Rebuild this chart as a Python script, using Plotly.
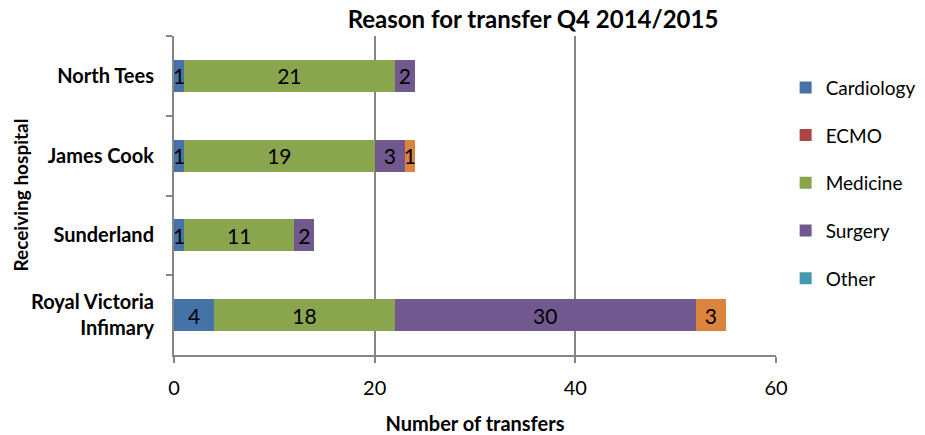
import plotly.graph_objects as go

hospitals = ["North Tees", "James Cook", "Sunderland", "Royal Victoria<br>Infimary"]
cardiology = [1, 1, 1, 4]
ecmo = [0, 0, 0, 0]
medicine = [21, 19, 11, 18]
surgery = [2, 3, 2, 30]
other = [0, 0, 0, 0]
unlisted = [0, 1, 0, 3]
x_ticks = [0, 20, 40, 60]

series = [
    ("Cardiology", cardiology, "#4572A7", True),
    ("ECMO", ecmo, "#AA4643", True),
    ("Medicine", medicine, "#89A54E", True),
    ("Surgery", surgery, "#71588F", True),
    ("Other", other, "#4198AF", True),
    ("Unlisted", unlisted, "#DB843D", False),
]

FONT = "Lato, 'Open Sans', sans-serif"
fig = go.Figure()
for i, (name, vals, color, show) in enumerate(series):
    fig.add_trace(go.Bar(
        y=hospitals, x=vals, name=name, orientation="h",
        marker=dict(color=color, line=dict(width=0)),
        text=[str(v) if v else "" for v in vals],
        textposition="inside", insidetextanchor="middle",
        textangle=0, constraintext="none", cliponaxis=False,
        textfont=dict(family=FONT, size=21, color="black"),
        legendgroup=name, showlegend=show,
    ))

fig.update_layout(
    barmode="stack", bargap=0.6,
    width=925, height=435,
    margin=dict(l=174, r=149, t=36, b=80, autoexpand=False),
    paper_bgcolor="white", plot_bgcolor="white",
    font=dict(family=FONT, color="black"),
    title=dict(text="<b>Reason for transfer Q4 2014/2015</b>", x=533/925, xanchor="center",
               y=1 - 20/435, yanchor="middle", xref="container", yref="container",
               font=dict(size=24, family=FONT)),
    legend=dict(x=1.016, xanchor="left", y=0.539, yanchor="middle",
                traceorder="grouped", tracegroupgap=20,
                font=dict(size=19, family=FONT), itemwidth=30),
    showlegend=True,
    annotations=[dict(text="<b>Receiving hospital</b>", textangle=-90,
                      xref="paper", yref="paper", x=(20 - 174) / 602, y=0.5,
                      xanchor="center", yanchor="middle", showarrow=False,
                      font=dict(size=19, family=FONT, color="black"))],
)
fig.update_xaxes(
    range=[0, 60], tickvals=x_ticks, ticks="outside", ticklen=6, tickwidth=2,
    tickcolor="#868686", showgrid=True, gridcolor="#868686", gridwidth=2,
    showline=True, linecolor="#868686", linewidth=2, zeroline=False,
    tickfont=dict(size=20, family=FONT), ticklabelstandoff=8, automargin=False,
    title=dict(text="<b>Number of transfers</b>", font=dict(size=20, family=FONT), standoff=22),
)
fig.update_yaxes(
    autorange="reversed", tickson="boundaries", ticks="outside", ticklen=6, tickwidth=2,
    tickcolor="#868686", showline=True, linecolor="#868686", linewidth=2,
    tickfont=dict(size=20, family=FONT), ticklabelstandoff=14, automargin=False,
    tickprefix="<b>", ticksuffix="</b>",
)
fig.write_html("out.html", config={"displayModeBar": False},
               post_script="document.body.style.margin='0';")
